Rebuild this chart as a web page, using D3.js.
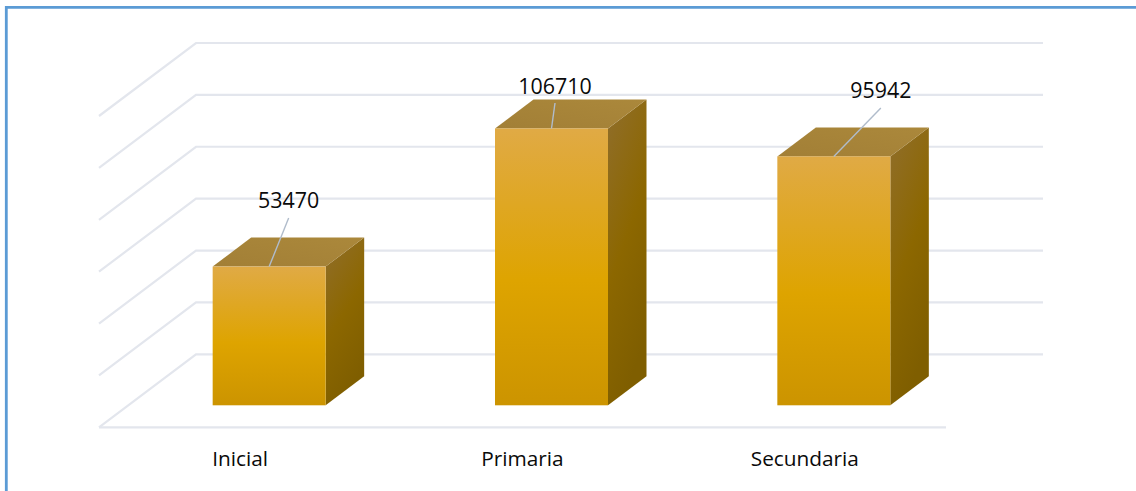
<!DOCTYPE html>
<html><head><meta charset="utf-8">
<script src="https://d3js.org/d3.v7.min.js"></script>
<style>html,body{margin:0;padding:0;background:#fff}svg{display:block}text{font-family:"Open Sans",sans-serif;fill:#0a0a0a}</style>
</head><body><svg id="c" width="1136" height="491"></svg>
<script>
const categories = ["Inicial", "Primaria", "Secundaria"];
const values = [53470, 106710, 95942];
const gridTicks = [0, 20000, 40000, 60000, 80000, 100000, 120000];

const W = 1136, H = 491;
const floorFrontY = 427.3, floorBackY = 354.3, floorDX = 97;
const x = d3.scaleBand().domain(categories).range([99, 946]);
const y = d3.scaleLinear().domain([0, 120000]).range([floorBackY, 43]);
const barW = 113, barDepthDX = 38.5, barDepthDY = 29, barFrontOffsetY = 22, barFrontOffsetX = 29;
const labelPos = [{dx: 19.5, ty: 208, ly: 218}, {dx: 3.5, ty: 94, ly: 103}, {dx: 47, ty: 98, ly: 108}];

const svg = d3.select("#c");
const defs = svg.append("defs");
function grad(id, x1, y1, x2, y2, stops) {
  const g = defs.append("linearGradient").attr("id", id)
    .attr("x1", x1).attr("y1", y1).attr("x2", x2).attr("y2", y2);
  stops.forEach(s => g.append("stop").attr("offset", s[0]).attr("stop-color", s[1]));
}
grad("front", 0, 0, 0, 1, [[0, "#e0aa45"], [0.55, "#dea400"], [1, "#cc9400"]]);
grad("side", 0, 0, 0.35, 1, [[0, "#906e2c"], [0.55, "#8c6700"], [1, "#7f5e00"]]);
grad("top", 0, 1, 1, 0, [[0, "#a27f36"], [1, "#ab883b"]]);

// frame
svg.append("path").attr("d", `M6.3,${H}V7.3H${W}`).attr("fill", "none")
  .attr("stroke", "#5b9bd5").attr("stroke-width", 2.8);

// gridlines
const gridColor = "#e3e6ed";
svg.append("g").selectAll("path").data(gridTicks).join("path")
  .attr("fill", "none").attr("stroke", gridColor).attr("stroke-width", 2.2)
  .attr("d", d => {
    const yy = y(d), bx = x.range()[0] + floorDX, fx = x.range()[0];
    const d0 = yy + (floorFrontY - floorBackY);
    return `M${fx},${d0}L${bx},${yy}H${x.range()[1] + floorDX}`;
  });
svg.append("line").attr("x1", x.range()[0]).attr("x2", x.range()[1])
  .attr("y1", floorFrontY).attr("y2", floorFrontY)
  .attr("stroke", gridColor).attr("stroke-width", 2.2);

// bars
const barData = categories.map((c, i) => ({c, v: values[i], i}));
const bars = svg.append("g").selectAll("g").data(barData).join("g");
const fx0 = d => x(d.c) + x.bandwidth() / 2 + barFrontOffsetX - barW / 2;
const base = floorFrontY - barFrontOffsetY;
const topY = d => base - (y(0) - y(d.v));
bars.append("path").attr("fill", "url(#side)").attr("d", d => {
  const r = fx0(d) + barW;
  return `M${r},${topY(d)}L${r + barDepthDX},${topY(d) - barDepthDY}V${base - barDepthDY}L${r},${base}Z`;
});
bars.append("path").attr("fill", "url(#top)").attr("d", d => {
  const l = fx0(d), t = topY(d);
  return `M${l},${t}L${l + barDepthDX},${t - barDepthDY}H${l + barW + barDepthDX}L${l + barW},${t}Z`;
});
bars.append("rect").attr("fill", "url(#front)")
  .attr("x", fx0).attr("y", topY).attr("width", barW).attr("height", d => base - topY(d));

// leaders
bars.append("line").attr("stroke", "#b0bccb").attr("stroke-width", 1.4)
  .attr("x1", d => fx0(d) + barW / 2).attr("y1", topY)
  .attr("x2", d => fx0(d) + barW / 2 + labelPos[d.i].dx).attr("y2", d => labelPos[d.i].ly);

// value labels
bars.append("text").attr("text-anchor", "middle").attr("font-size", 21.4)
  .attr("x", d => fx0(d) + barW / 2 + labelPos[d.i].dx).attr("y", d => labelPos[d.i].ty)
  .text(d => d.v);

// category labels
svg.append("g").selectAll("text").data(categories).join("text")
  .attr("text-anchor", "middle").attr("font-size", 20.8)
  .attr("x", d => x(d) + x.bandwidth() / 2).attr("y", 466).text(d => d);
</script></body></html>
